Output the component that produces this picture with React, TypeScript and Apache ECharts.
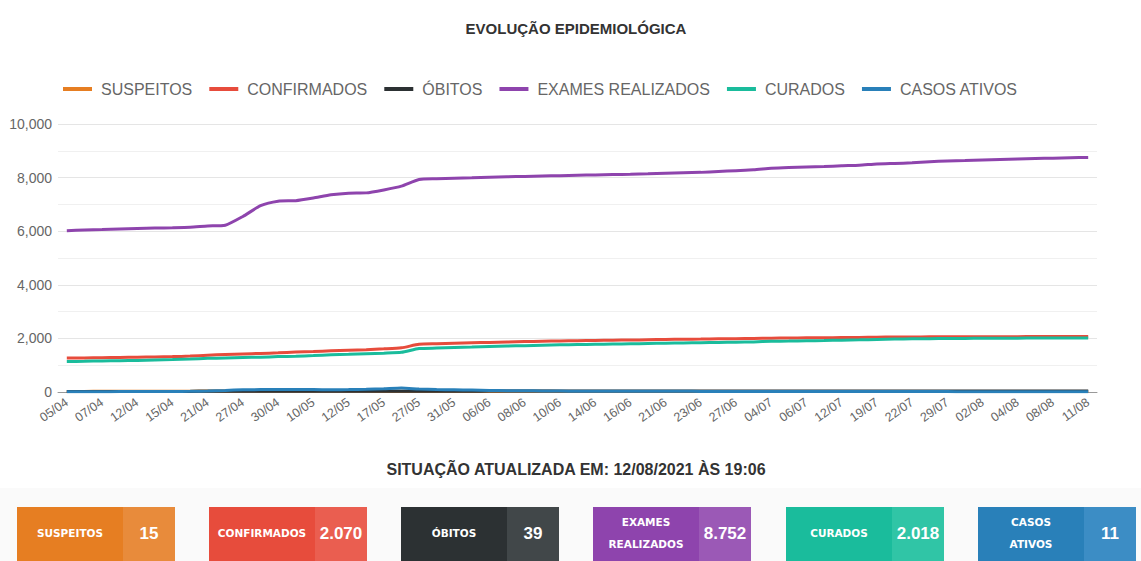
import React, { useEffect, useRef } from "react";
import * as echarts from "echarts";

const dates = [
  "05/04", "06/04", "07/04", "09/04", "12/04", "14/04", "15/04", "19/04", "21/04", "23/04",
  "27/04", "29/04", "30/04", "05/05", "10/05", "11/05", "12/05", "14/05", "17/05", "24/05",
  "27/05", "28/05", "31/05", "02/06", "06/06", "07/06", "08/06", "09/06", "10/06", "11/06",
  "14/06", "15/06", "16/06", "18/06", "21/06", "22/06", "23/06", "25/06", "27/06", "30/06",
  "04/07", "05/07", "06/07", "08/07", "12/07", "14/07", "19/07", "20/07", "22/07", "26/07",
  "29/07", "30/07", "02/08", "03/08", "04/08", "06/08", "08/08", "09/08", "11/08",
];

const suspeitos = [
  20, 22, 25, 25, 28, 30, 30, 32, 35, 38, 40, 42, 40, 38, 36, 35, 34, 33, 32, 30,
  30, 28, 27, 26, 25, 25, 24, 24, 23, 22, 22, 21, 21, 20, 20, 20, 19, 19, 18, 18,
  18, 17, 17, 17, 16, 16, 16, 16, 16, 15, 15, 15, 15, 15, 15, 15, 15, 15, 15,
];

const confirmados = [
  1265, 1270, 1280, 1290, 1300, 1310, 1320, 1340, 1370, 1400,
  1420, 1440, 1460, 1490, 1510, 1540, 1560, 1580, 1610, 1650,
  1780, 1800, 1820, 1835, 1850, 1865, 1880, 1895, 1905, 1915,
  1925, 1935, 1940, 1950, 1960, 1970, 1975, 1985, 1990, 2000,
  2010, 2015, 2020, 2025, 2030, 2035, 2045, 2050, 2055, 2058,
  2060, 2062, 2064, 2065, 2066, 2067, 2068, 2069, 2070,
];

const obitos = [
  20, 20, 21, 21, 22, 22, 23, 23, 24, 25, 26, 27, 27, 28, 28, 29, 29, 30, 30, 31,
  31, 32, 32, 32, 33, 33, 33, 34, 34, 34, 35, 35, 35, 35, 36, 36, 36, 36, 37, 37,
  37, 37, 37, 38, 38, 38, 38, 38, 38, 38, 39, 39, 39, 39, 39, 39, 39, 39, 39,
];

const exames = [
  6020, 6045, 6065, 6085, 6100, 6115, 6130, 6150, 6195, 6225,
  6550, 6950, 7120, 7140, 7240, 7360, 7420, 7430, 7540, 7680,
  7930, 7955, 7975, 7990, 8010, 8030, 8045, 8060, 8070, 8085,
  8100, 8115, 8125, 8140, 8160, 8180, 8195, 8230, 8260, 8290,
  8350, 8380, 8395, 8410, 8440, 8460, 8510, 8530, 8550, 8590,
  8620, 8640, 8660, 8680, 8695, 8710, 8725, 8740, 8752,
];

const curados = [
  1135, 1145, 1160, 1170, 1180, 1195, 1210, 1230, 1255, 1270,
  1285, 1300, 1320, 1335, 1360, 1390, 1410, 1430, 1450, 1480,
  1620, 1640, 1660, 1680, 1700, 1715, 1730, 1745, 1760, 1770,
  1780, 1790, 1800, 1810, 1820, 1830, 1840, 1850, 1860, 1870,
  1890, 1900, 1910, 1920, 1935, 1945, 1960, 1975, 1985, 1990,
  1995, 2000, 2004, 2007, 2010, 2012, 2014, 2016, 2018,
];

const casosAtivos = [
  10, 10, 12, 14, 15, 18, 20, 25, 40, 60,
  80, 90, 90, 95, 90, 85, 90, 100, 120, 150,
  110, 90, 80, 70, 60, 50, 45, 40, 35, 30,
  30, 28, 27, 26, 25, 24, 23, 22, 21, 20,
  20, 19, 18, 18, 17, 16, 16, 15, 15, 14,
  14, 13, 13, 12, 12, 12, 11, 11, 11,
];

const seriesNames = ["SUSPEITOS", "CONFIRMADOS", "ÓBITOS", "EXAMES REALIZADOS", "CURADOS", "CASOS ATIVOS"];
const seriesColors = ["#e67e22", "#e74c3c", "#2c3133", "#8e44ad", "#1abc9c", "#2980b9"];
const seriesData = [suspeitos, confirmados, obitos, exames, curados, casosAtivos];

const cardLabels = ["SUSPEITOS", "CONFIRMADOS", "ÓBITOS", "EXAMES\nREALIZADOS", "CURADOS", "CASOS\nATIVOS"];
const cardValues = [15, 2070, 39, 8752, 2018, 11];
const cardDark = ["#e67e22", "#e74c3c", "#2c3133", "#8e44ad", "#1abc9c", "#2980b9"];
const cardLight = ["#e88b3b", "#ea5e50", "#414749", "#9b59b6", "#30c5a6", "#3c8dc5"];

const titleText = "EVOLUÇÃO EPIDEMIOLÓGICA";
const updatedText = "SITUAÇÃO ATUALIZADA EM: 12/08/2021 ÀS 19:06";

const fmt = (v: number) => String(v).replace(/\B(?=(\d{3})+(?!\d))/g, ".");

export default function App() {
  const ref = useRef<HTMLDivElement>(null);

  useEffect(() => {
    document.body.style.margin = "0";
    const chart = echarts.init(ref.current!, undefined, { renderer: "svg" });

    const cardLefts = [17, 209, 401, 593, 786, 978];
    const cardW = 158;
    const split = 106;
    const cardTop = 507;
    const cardH = 60;

    const graphics: any[] = [
      {
        type: "rect",
        z: -10,
        shape: { x: 0, y: 488, width: 1141, height: 73 },
        style: { fill: "#fafafa" },
        silent: true,
      },
      {
        type: "text",
        x: 576,
        y: 28,
        style: {
          text: titleText,
          fill: "#333",
          font: "bold 15px 'Liberation Sans', Arial, sans-serif",
          align: "center",
          verticalAlign: "middle",
          textAlign: "center",
          textVerticalAlign: "middle",
        },
      },
      {
        type: "text",
        x: 576,
        y: 469,
        style: {
          text: updatedText,
          fill: "#333",
          font: "bold 16px 'Liberation Sans', Arial, sans-serif",
          align: "center",
          verticalAlign: "middle",
          textAlign: "center",
          textVerticalAlign: "middle",
        },
      },
    ];

    cardLabels.forEach((lab, i) => {
      const l = cardLefts[i];
      graphics.push({
        type: "rect",
        shape: { x: l, y: cardTop, width: split, height: cardH },
        style: { fill: cardDark[i] },
      });
      graphics.push({
        type: "rect",
        shape: { x: l + split, y: cardTop, width: cardW - split, height: cardH },
        style: { fill: cardLight[i] },
      });
      graphics.push({
        type: "text",
        x: l + split / 2,
        y: 533,
        style: {
          text: lab,
          fill: "#fff",
          font: "bold 10.5px 'DejaVu Sans', sans-serif",
          lineHeight: 22,
          align: "center",
          verticalAlign: "middle",
          textAlign: "center",
          textVerticalAlign: "middle",
        },
      });
      graphics.push({
        type: "text",
        x: l + split + (cardW - split) / 2,
        y: 533,
        style: {
          text: fmt(cardValues[i]),
          fill: "#fff",
          font: "bold 17px 'Liberation Sans', Arial, sans-serif",
          align: "center",
          verticalAlign: "middle",
          textAlign: "center",
          textVerticalAlign: "middle",
        },
      });
    });

    chart.setOption({
      animation: false,
      backgroundColor: "#ffffff",
      color: seriesColors,
      legend: {
        top: 76,
        left: 58,
        icon: "rect",
        itemWidth: 29,
        itemHeight: 4,
        itemGap: 17,
        data: seriesNames,
        textStyle: {
          color: "#666",
          fontSize: 16,
          fontFamily: "'Liberation Sans', Arial, sans-serif",
          padding: [0, 0, 0, 4],
        },
      },
      grid: { left: 58, right: 44, top: 124, bottom: 169, containLabel: false },
      xAxis: {
        type: "category",
        boundaryGap: true,
        data: dates,
        axisLine: { show: true, lineStyle: { color: "#999", width: 1 } },
        axisTick: { show: false },
        axisLabel: {
          interval: 1,
          rotate: 35,
          color: "#666",
          fontSize: 12.5,
          margin: 9,
          fontFamily: "'Liberation Sans', Arial, sans-serif",
        },
        splitLine: { show: false },
      },
      yAxis: {
        type: "value",
        min: 0,
        max: 10000,
        interval: 2000,
        axisLine: { show: false },
        axisTick: { show: false },
        axisLabel: {
          color: "#666",
          fontSize: 14,
          margin: 6,
          fontFamily: "'Liberation Sans', Arial, sans-serif",
        },
        splitLine: { show: true, lineStyle: { color: "#e5e5e5", width: 1 } },
        minorTick: { show: false, splitNumber: 2 },
        minorSplitLine: { show: true, lineStyle: { color: "#f0f0f0", width: 1 } },
      },
      series: seriesNames.map((name, i) => ({
        name,
        type: "line",
        data: seriesData[i],
        smooth: 0.2,
        showSymbol: false,
        symbol: "none",
        lineStyle: { width: 3, color: seriesColors[i] },
        itemStyle: { color: seriesColors[i] },
      })),
      graphic: graphics,
    });

    return () => {
      chart.dispose();
    };
  }, []);

  return <div ref={ref} style={{ width: 1141, height: 561 }} />;
}
